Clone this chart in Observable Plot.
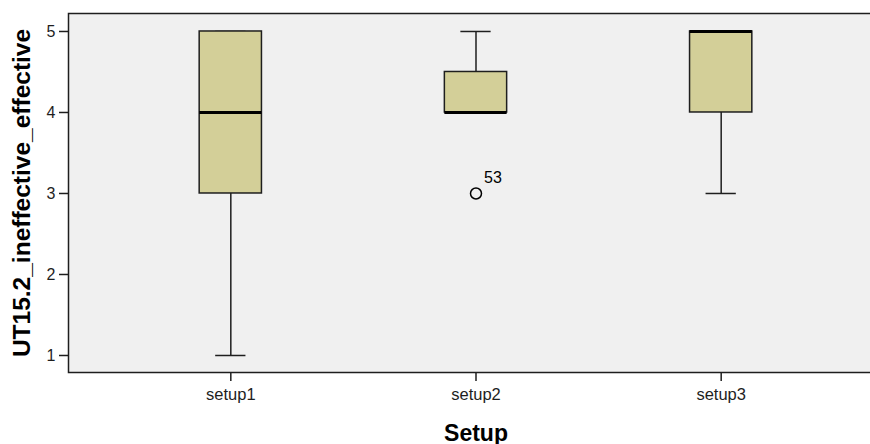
<!DOCTYPE html>
<html>
<head>
<meta charset="utf-8">
<script src="https://cdn.jsdelivr.net/npm/d3@7"></script>
<script src="https://cdn.jsdelivr.net/npm/@observablehq/plot@0.6"></script>
<style>
  html, body { margin: 0; padding: 0; background: #ffffff; }
  #chart { width: 870px; height: 444px; overflow: hidden; }
  #chart svg { display: block; max-width: none !important; width: 883px !important; height: 444px !important; }
</style>
</head>
<body>
<div id="chart"></div>
<script>
const setups = ["setup1", "setup2", "setup3"];
const whiskerLow = [1, 4, 3];
const q1 = [3, 4, 4];
const median = [4, 4, 5];
const q3 = [5, 4.5, 5];
const whiskerHigh = [5, 5, 5];
const outlierSetup = ["setup2"];
const outlierValue = [3];
const outlierLabel = ["53"];
const yTicks = [1, 2, 3, 4, 5];
const yLabel = "UT15.2_ineffective_effective";
const xLabel = "Setup";

const boxes = setups.map((s, i) => ({
  setup: s, lo: whiskerLow[i], q1: q1[i], med: median[i], q3: q3[i], hi: whiskerHigh[i]
}));
const outliers = outlierSetup.map((s, i) => ({ setup: s, value: outlierValue[i], label: outlierLabel[i] }));

const ink = "#1e1e1e";

const chart = Plot.plot({
  width: 883,
  height: 444,
  marginLeft: 68,
  marginRight: 0,
  marginTop: 13,
  marginBottom: 72,
  style: { fontFamily: "'Liberation Sans', Arial, sans-serif", background: "#ffffff", color: ink },
  x: { type: "band", domain: setups, paddingInner: 0.746, paddingOuter: 0.535, round: false, label: null },
  y: { domain: [0.79, 5.222], label: null },
  marks: [
    Plot.frame({ fill: "#f0f0f0" }),
    Plot.ruleX(boxes, { x: "setup", y1: "lo", y2: "q1", stroke: ink, strokeWidth: 1.5 }),
    Plot.ruleX(boxes, { x: "setup", y1: "q3", y2: "hi", stroke: ink, strokeWidth: 1.5 }),
    Plot.tickY(boxes, { x: "setup", y: "lo", stroke: ink, strokeWidth: 1.5, insetLeft: 16, insetRight: 16 }),
    Plot.tickY(boxes, { x: "setup", y: "hi", stroke: ink, strokeWidth: 1.5, insetLeft: 16, insetRight: 16 }),
    Plot.barY(boxes, { x: "setup", y1: "q1", y2: "q3", fill: "#d3cf98", stroke: ink, strokeWidth: 1.5 }),
    Plot.tickY(boxes, { x: "setup", y: "med", stroke: "#000000", strokeWidth: 3 }),
    Plot.dot(outliers, { x: "setup", y: "value", r: 5.5, stroke: "#000000", strokeWidth: 1.5, fill: "none" }),
    Plot.text(outliers, { x: "setup", y: "value", text: "label", dx: 8, dy: -16, textAnchor: "start", fontSize: 16, fill: "#000000" }),
    Plot.axisY({ ticks: yTicks, tickFormat: d3.format("d"), tickSize: 9, tickPadding: 4, fontSize: 16, strokeWidth: 1.5, stroke: ink, label: null }),
    Plot.axisX({ tickSize: 9, tickPadding: 7, fontSize: 16.5, strokeWidth: 1.5, stroke: ink, label: null }),
    Plot.text([yLabel], { frameAnchor: "left", textAnchor: "middle", rotate: -90, dx: -46, fontSize: 24.5, fontWeight: "bold", fill: "#000000" }),
    Plot.text([xLabel], { frameAnchor: "bottom", textAnchor: "middle", dy: 68, fontSize: 23, fontWeight: "bold", fill: "#000000" }),
    Plot.frame({ stroke: ink, strokeWidth: 1.5 })
  ]
});
document.getElementById("chart").appendChild(chart);
</script>
</body>
</html>
